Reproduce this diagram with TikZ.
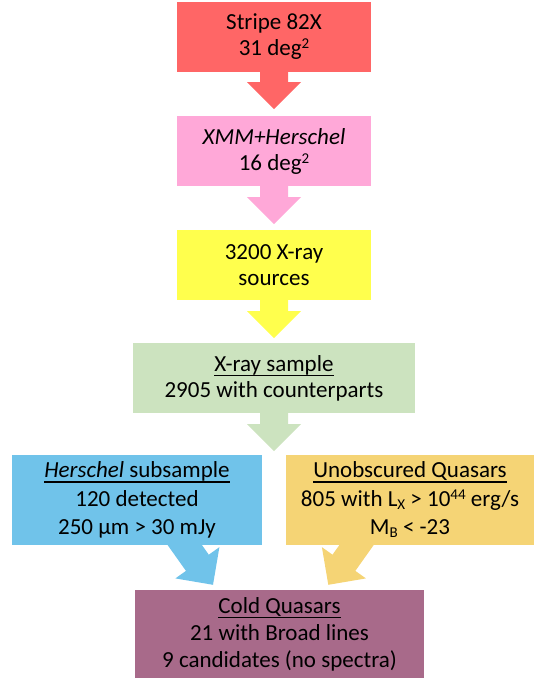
\documentclass[tikz,border=0pt]{standalone}
\usepackage{fontspec}
\setmainfont{Carlito}
\usetikzlibrary{calc}
\pgfdeclarelayer{background}
\pgfsetlayers{background,main}
\definecolor{cred}{HTML}{FF6666}
\definecolor{cpink}{HTML}{FFA8D8}
\definecolor{cyellow}{HTML}{FFFF4D}
\definecolor{cgreen}{HTML}{CCE3BF}
\definecolor{cblue}{HTML}{70C3EA}
\definecolor{corange}{HTML}{F5D475}
\definecolor{cpurple}{HTML}{A86A8A}
\newcommand\ulx[1]{\setbox0\hbox{#1}\rlap{\vrule height -3.5pt depth 5pt width \wd0}\box0}
\newcommand\sups[1]{\raisebox{7pt}{\fontsize{15}{15}\selectfont #1}}
\newcommand\subs[1]{\raisebox{-3pt}{\fontsize{15}{15}\selectfont #1}}
\newcommand\blockarrow[3]{%
  \path (#2) coordinate (ba-t);
  \path (#1) coordinate (ba-s);
  \path ($(ba-t)!27pt!(ba-s)$) coordinate (ba-b);
  \fill[#3] ($(ba-s)!14pt!90:(ba-t)$) -- ($(ba-b)!14pt!90:(ba-t)$) -- ($(ba-b)!27pt!90:(ba-t)$) -- (ba-t)
    -- ($(ba-b)!27pt!-90:(ba-t)$) -- ($(ba-b)!14pt!-90:(ba-t)$) -- ($(ba-s)!14pt!-90:(ba-t)$) -- cycle;}
\begin{document}
\begin{tikzpicture}[x=1pt,y=1pt,
  box/.style={draw=none,inner sep=0pt,align=center,text=black,
    font=\fontsize{23}{26}\selectfont}]
\useasboundingbox (0,0) rectangle (540,-678);
\node[box,fill=cred,minimum width=194,minimum height=70] (red) at (274,-37)
  {Stripe 82X\\31 deg\sups{2}};
\node[box,fill=cpink,minimum width=194,minimum height=70] (pink) at (274,-151)
  {\textit{XMM+Herschel}\\16 deg\sups{2}};
\node[box,fill=cyellow,minimum width=194,minimum height=70] (yellow) at (274,-265)
  {3200 X-ray\\sources};
\node[box,fill=cgreen,minimum width=282,minimum height=70] (green) at (274,-378)
  {\ulx{X-ray sample}\\2905 with counterparts};
\node[box,fill=cblue,minimum width=250,minimum height=90,
  font=\fontsize{23}{28.5}\selectfont] (blue) at (137,-500)
  {\ulx{\textit{Herschel} subsample}\\120 detected\\250 µm > 30 mJy};
\node[box,fill=corange,minimum width=248,minimum height=90,
  font=\fontsize{23}{28.5}\selectfont] (orange) at (410,-500)
  {\ulx{Unobscured Quasars}\\805 with L\subs{X} > 10\sups{44} erg/s\\M\subs{B} < -23};
\node[box,fill=cpurple,minimum width=289,minimum height=88,
  font=\fontsize{23}{27}\selectfont] (cold) at (279.5,-634)
  {\ulx{Cold Quasars}\\21 with Broad lines\\9 candidates (no spectra)};
\coordinate (split) at ($(green.south)+(0,-38)$);
\begin{pgfonlayer}{background}
\blockarrow{$(red.south)+(0,4)$}{$(red.south)+(0,-37)$}{cred}
\blockarrow{$(pink.south)+(0,4)$}{$(pink.south)+(0,-38)$}{cpink}
\blockarrow{$(yellow.south)+(0,4)$}{$(yellow.south)+(0,-38)$}{cyellow}
\blockarrow{$(green.south)+(0,4)$}{split}{cgreen}
\blockarrow{$(blue.south)+(40.3,10.7)$}{$(cold.north)+(-66.5,5)$}{cblue}
\blockarrow{$(orange.south)+(-46,10.7)$}{$(cold.north)+(48.8,5)$}{corange}
\end{pgfonlayer}
\end{tikzpicture}
\end{document}
